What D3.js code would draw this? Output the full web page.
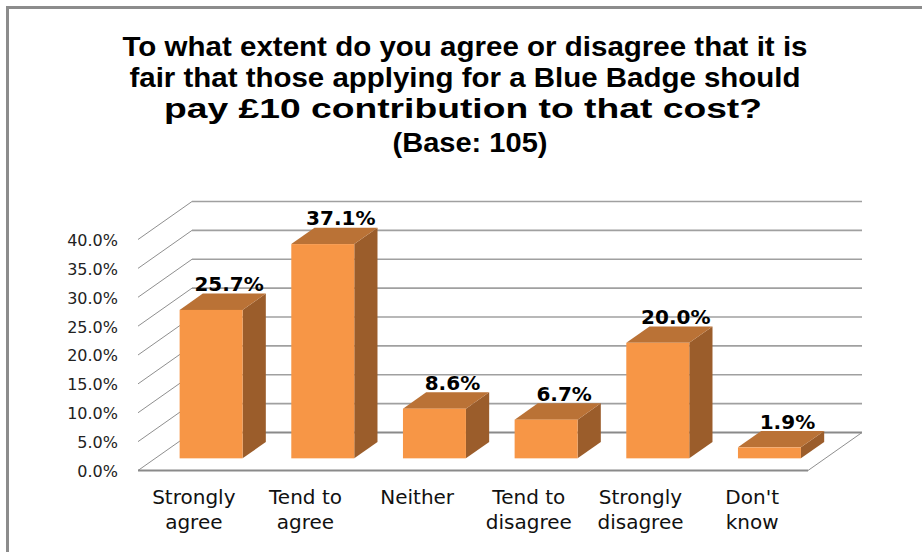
<!DOCTYPE html>
<html>
<head>
<meta charset="utf-8">
<script src="https://cdn.jsdelivr.net/npm/d3@7"></script>
<style>
  body { margin: 0; background: #fff; }
</style>
</head>
<body>
<script>
// data
const categories = ["Strongly\nagree", "Tend to\nagree", "Neither", "Tend to\ndisagree", "Strongly\ndisagree", "Don't\nknow"];
const values = [25.7, 37.1, 8.6, 6.7, 20.0, 1.9];
const yTicks = [0, 5, 10, 15, 20, 25, 30, 35, 40];
const titleLines = [
  "To what extent do you agree or disagree that it is",
  "fair that those applying for a Blue Badge should",
  "pay £10 contribution to that cost?",
  "(Base: 105)"
];

const W = 922, H = 552;

const svg = d3.select("body").append("svg")
  .attr("width", W)
  .attr("height", H);

// chart frame (only left and top edges fall inside the picture)
svg.append("path")
  .attr("d", "M7.5,560V7.5H930")
  .attr("fill", "none")
  .attr("stroke", "#8c8c8c")
  .attr("stroke-width", 3);

// title
const titlePos = [
  {cx: 465, y: 56, len: 685},
  {cx: 465, y: 87, len: 671},
  {cx: 463, y: 118, len: 598},
  {cx: 470, y: 152, len: 155}
];
svg.append("g").selectAll("text")
  .data(titleLines)
  .join("text")
  .attr("x", (d, i) => titlePos[i].cx)
  .attr("y", (d, i) => titlePos[i].y)
  .attr("text-anchor", "middle")
  .attr("textLength", (d, i) => titlePos[i].len)
  .attr("lengthAdjust", "spacingAndGlyphs")
  .attr("font-family", "'Liberation Sans', Arial, sans-serif")
  .attr("font-weight", "bold")
  .attr("font-size", 27)
  .attr("fill", "#000")
  .text(d => d);

// 3d plot geometry
const x0 = 138, x1 = 808, yFloor = 470.5;
const dx = 54, dy = -38;          // depth vector of the floor
const barFront = 0.32, barBack = 0.75;

const x = d3.scaleBand()
  .domain(categories)
  .range([x0, x1])
  .paddingInner(0.436)
  .paddingOuter(0.218);

const y = d3.scaleLinear().domain([0, 40]).range([yFloor, yFloor - 231]);

const grid = svg.append("g");

// back wall gridlines
grid.selectAll(".back")
  .data(yTicks)
  .join("line")
  .attr("x1", x0 + dx).attr("x2", x1 + dx)
  .attr("y1", d => y(d) + dy).attr("y2", d => y(d) + dy)
  .attr("stroke", d => d === 0 ? "#8a8a8a" : "#a0a0a0")
  .attr("stroke-width", d => d === 0 ? 2 : 1.7);

// side wall diagonals
grid.selectAll(".side")
  .data(yTicks)
  .join("line")
  .attr("x1", x0).attr("x2", x0 + dx)
  .attr("y1", d => y(d)).attr("y2", d => y(d) + dy)
  .attr("stroke", "#8f8f8f")
  .attr("stroke-width", 1);

// floor front and right edges
grid.append("line")
  .attr("x1", x0).attr("x2", x1)
  .attr("y1", y(0)).attr("y2", y(0))
  .attr("stroke", "#8a8a8a")
  .attr("stroke-width", 2.2);
grid.append("line")
  .attr("x1", x1).attr("x2", x1 + dx)
  .attr("y1", y(0)).attr("y2", y(0) + dy)
  .attr("stroke", "#8f8f8f")
  .attr("stroke-width", 1);

// y axis labels
svg.append("g").selectAll("text")
  .data(yTicks)
  .join("text")
  .attr("x", 118)
  .attr("y", d => y(d))
  .attr("dy", "0.4em")
  .attr("text-anchor", "end")
  .attr("font-family", "'DejaVu Sans', sans-serif")
  .attr("font-size", 16)
  .attr("fill", "#222")
  .text(d => d3.format(".1f")(d) + "%");

// bars
const bars = categories.map((c, i) => {
  const fx = x(c) + barFront * dx;
  const fy = yFloor + barFront * dy;
  const top = y(values[i]) + barFront * dy;
  return {c, v: values[i], fx, fy, top, w: x.bandwidth(),
          bdx: (barBack - barFront) * dx, bdy: (barBack - barFront) * dy};
});

const g = svg.append("g");
const bar = g.selectAll("g").data(bars).join("g");

bar.append("path")
  .attr("d", b => `M${b.fx + b.w},${b.top}L${b.fx + b.w + b.bdx},${b.top + b.bdy}L${b.fx + b.w + b.bdx},${b.fy + b.bdy}L${b.fx + b.w},${b.fy}Z`)
  .attr("fill", "#9b5d2b");
bar.append("path")
  .attr("d", b => `M${b.fx},${b.top}L${b.fx + b.w},${b.top}L${b.fx + b.w + b.bdx},${b.top + b.bdy}L${b.fx + b.bdx},${b.top + b.bdy}Z`)
  .attr("fill", "#ba7236");
bar.append("rect")
  .attr("x", b => b.fx)
  .attr("y", b => b.top)
  .attr("width", b => b.w)
  .attr("height", b => b.fy - b.top)
  .attr("fill", "#f79646");

// value labels
bar.append("text")
  .attr("x", b => b.fx + b.w / 2 + 18)
  .attr("y", b => b.top + b.bdy - 2.5)
  .attr("text-anchor", "middle")
  .attr("font-family", "'DejaVu Sans', sans-serif")
  .attr("font-weight", "bold")
  .attr("font-size", 20)
  .attr("fill", "#000")
  .text(b => b.v.toFixed(1) + "%");

// category labels
const xl = svg.append("g").selectAll("text")
  .data(categories)
  .join("text")
  .attr("x", d => x(d) + x.bandwidth() / 2)
  .attr("y", 504)
  .attr("text-anchor", "middle")
  .attr("font-family", "'DejaVu Sans', sans-serif")
  .attr("font-size", 20)
  .attr("fill", "#111");

xl.selectAll("tspan")
  .data(d => d.split("\n"))
  .join("tspan")
  .attr("x", function() { return this.parentNode.getAttribute("x"); })
  .attr("dy", (d, i) => i ? 25 : 0)
  .text(d => d);
</script>
</body>
</html>
